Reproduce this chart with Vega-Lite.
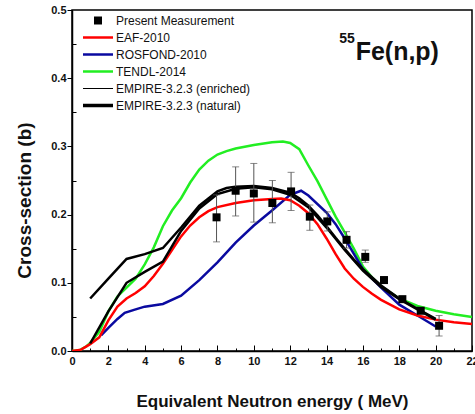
{
  "$schema": "https://vega.github.io/schema/vega-lite/v6.json",
  "width": 400,
  "height": 341,
  "autosize": "none",
  "padding": {"left": 72, "top": 10, "right": 3, "bottom": 63},
  "background": "white",
  "config": {
    "view": {"stroke": "black", "strokeWidth": 1.5},
    "font": "Liberation Sans",
    "axis": {
      "domainColor": "black", "domainWidth": 1.5, "tickColor": "black", "tickWidth": 1,
      "labelFont": "Liberation Sans", "labelFontWeight": "bold", "labelFontSize": 11, "labelColor": "#111",
      "titleFont": "Liberation Sans", "titleFontWeight": "bold", "titleColor": "#111", "grid": false,
      "labelOverlap": false, "labelFlush": false
    }
  },
  "datasets": {
    "meas": [
      {"series": "Present Measurement", "E": 7.95, "xs": 0.196, "lo": 0.160, "hi": 0.229},
      {"series": "Present Measurement", "E": 9.0, "xs": 0.235, "lo": 0.198, "hi": 0.270},
      {"series": "Present Measurement", "E": 10.0, "xs": 0.231, "lo": 0.189, "hi": 0.275},
      {"series": "Present Measurement", "E": 11.02, "xs": 0.217, "lo": 0.188, "hi": 0.250},
      {"series": "Present Measurement", "E": 12.05, "xs": 0.234, "lo": 0.206, "hi": 0.262},
      {"series": "Present Measurement", "E": 13.08, "xs": 0.197, "lo": 0.177, "hi": 0.214},
      {"series": "Present Measurement", "E": 14.04, "xs": 0.190, "lo": 0.176, "hi": 0.204},
      {"series": "Present Measurement", "E": 15.1, "xs": 0.163, "lo": 0.151, "hi": 0.175},
      {"series": "Present Measurement", "E": 16.13, "xs": 0.138, "lo": 0.130, "hi": 0.148},
      {"series": "Present Measurement", "E": 17.16, "xs": 0.104, "lo": 0.099, "hi": 0.109},
      {"series": "Present Measurement", "E": 18.17, "xs": 0.076, "lo": 0.072, "hi": 0.080},
      {"series": "Present Measurement", "E": 19.18, "xs": 0.059, "lo": 0.055, "hi": 0.063},
      {"series": "Present Measurement", "E": 20.19, "xs": 0.037, "lo": 0.022, "hi": 0.052}
    ],
    "curves": [
      {"series": "TENDL-2014", "E": 0, "xs": 0},
      {"series": "TENDL-2014", "E": 0.4, "xs": 0.001},
      {"series": "TENDL-2014", "E": 0.8, "xs": 0.007},
      {"series": "TENDL-2014", "E": 1, "xs": 0.012},
      {"series": "TENDL-2014", "E": 1.5, "xs": 0.028},
      {"series": "TENDL-2014", "E": 2, "xs": 0.058},
      {"series": "TENDL-2014", "E": 2.5, "xs": 0.080},
      {"series": "TENDL-2014", "E": 3, "xs": 0.093},
      {"series": "TENDL-2014", "E": 3.5, "xs": 0.106},
      {"series": "TENDL-2014", "E": 4, "xs": 0.127},
      {"series": "TENDL-2014", "E": 4.5, "xs": 0.152},
      {"series": "TENDL-2014", "E": 5, "xs": 0.183},
      {"series": "TENDL-2014", "E": 5.5, "xs": 0.206},
      {"series": "TENDL-2014", "E": 6, "xs": 0.224},
      {"series": "TENDL-2014", "E": 6.5, "xs": 0.247},
      {"series": "TENDL-2014", "E": 7, "xs": 0.266},
      {"series": "TENDL-2014", "E": 7.5, "xs": 0.279},
      {"series": "TENDL-2014", "E": 8, "xs": 0.288},
      {"series": "TENDL-2014", "E": 8.5, "xs": 0.293},
      {"series": "TENDL-2014", "E": 9, "xs": 0.297},
      {"series": "TENDL-2014", "E": 10, "xs": 0.302},
      {"series": "TENDL-2014", "E": 11, "xs": 0.306},
      {"series": "TENDL-2014", "E": 11.6, "xs": 0.307},
      {"series": "TENDL-2014", "E": 12, "xs": 0.305},
      {"series": "TENDL-2014", "E": 12.5, "xs": 0.296},
      {"series": "TENDL-2014", "E": 13, "xs": 0.272},
      {"series": "TENDL-2014", "E": 13.5, "xs": 0.249},
      {"series": "TENDL-2014", "E": 14, "xs": 0.223},
      {"series": "TENDL-2014", "E": 14.5, "xs": 0.197},
      {"series": "TENDL-2014", "E": 15, "xs": 0.174},
      {"series": "TENDL-2014", "E": 15.5, "xs": 0.150},
      {"series": "TENDL-2014", "E": 16, "xs": 0.124},
      {"series": "TENDL-2014", "E": 16.5, "xs": 0.108},
      {"series": "TENDL-2014", "E": 17, "xs": 0.095},
      {"series": "TENDL-2014", "E": 18, "xs": 0.077},
      {"series": "TENDL-2014", "E": 19, "xs": 0.066},
      {"series": "TENDL-2014", "E": 20, "xs": 0.059},
      {"series": "TENDL-2014", "E": 21, "xs": 0.054},
      {"series": "TENDL-2014", "E": 22, "xs": 0.050},

      {"series": "ROSFOND-2010", "E": 1.6, "xs": 0.023},
      {"series": "ROSFOND-2010", "E": 2, "xs": 0.034},
      {"series": "ROSFOND-2010", "E": 2.5, "xs": 0.047},
      {"series": "ROSFOND-2010", "E": 2.9, "xs": 0.056},
      {"series": "ROSFOND-2010", "E": 3.5, "xs": 0.061},
      {"series": "ROSFOND-2010", "E": 4, "xs": 0.065},
      {"series": "ROSFOND-2010", "E": 5, "xs": 0.069},
      {"series": "ROSFOND-2010", "E": 6, "xs": 0.081},
      {"series": "ROSFOND-2010", "E": 7, "xs": 0.104},
      {"series": "ROSFOND-2010", "E": 8, "xs": 0.130},
      {"series": "ROSFOND-2010", "E": 9, "xs": 0.159},
      {"series": "ROSFOND-2010", "E": 10, "xs": 0.184},
      {"series": "ROSFOND-2010", "E": 11, "xs": 0.206},
      {"series": "ROSFOND-2010", "E": 12, "xs": 0.229},
      {"series": "ROSFOND-2010", "E": 12.6, "xs": 0.235},
      {"series": "ROSFOND-2010", "E": 13, "xs": 0.228},
      {"series": "ROSFOND-2010", "E": 14, "xs": 0.203},
      {"series": "ROSFOND-2010", "E": 14.5, "xs": 0.186},
      {"series": "ROSFOND-2010", "E": 15, "xs": 0.165},
      {"series": "ROSFOND-2010", "E": 16, "xs": 0.120},
      {"series": "ROSFOND-2010", "E": 17, "xs": 0.093},
      {"series": "ROSFOND-2010", "E": 18, "xs": 0.068},
      {"series": "ROSFOND-2010", "E": 19, "xs": 0.052},
      {"series": "ROSFOND-2010", "E": 20, "xs": 0.036},

      {"series": "EAF-2010", "E": 0, "xs": 0},
      {"series": "EAF-2010", "E": 0.5, "xs": 0.002},
      {"series": "EAF-2010", "E": 1, "xs": 0.010},
      {"series": "EAF-2010", "E": 1.5, "xs": 0.020},
      {"series": "EAF-2010", "E": 2, "xs": 0.045},
      {"series": "EAF-2010", "E": 2.5, "xs": 0.065},
      {"series": "EAF-2010", "E": 3, "xs": 0.077},
      {"series": "EAF-2010", "E": 3.5, "xs": 0.085},
      {"series": "EAF-2010", "E": 4, "xs": 0.095},
      {"series": "EAF-2010", "E": 4.5, "xs": 0.110},
      {"series": "EAF-2010", "E": 5, "xs": 0.128},
      {"series": "EAF-2010", "E": 5.5, "xs": 0.148},
      {"series": "EAF-2010", "E": 6, "xs": 0.168},
      {"series": "EAF-2010", "E": 6.5, "xs": 0.184},
      {"series": "EAF-2010", "E": 7, "xs": 0.196},
      {"series": "EAF-2010", "E": 7.5, "xs": 0.205},
      {"series": "EAF-2010", "E": 8, "xs": 0.211},
      {"series": "EAF-2010", "E": 9, "xs": 0.217},
      {"series": "EAF-2010", "E": 10, "xs": 0.221},
      {"series": "EAF-2010", "E": 11, "xs": 0.223},
      {"series": "EAF-2010", "E": 11.5, "xs": 0.2235},
      {"series": "EAF-2010", "E": 12, "xs": 0.221},
      {"series": "EAF-2010", "E": 12.5, "xs": 0.213},
      {"series": "EAF-2010", "E": 13, "xs": 0.202},
      {"series": "EAF-2010", "E": 13.5, "xs": 0.186},
      {"series": "EAF-2010", "E": 14, "xs": 0.165},
      {"series": "EAF-2010", "E": 14.5, "xs": 0.142},
      {"series": "EAF-2010", "E": 15, "xs": 0.121},
      {"series": "EAF-2010", "E": 15.5, "xs": 0.106},
      {"series": "EAF-2010", "E": 16, "xs": 0.094},
      {"series": "EAF-2010", "E": 16.5, "xs": 0.084},
      {"series": "EAF-2010", "E": 17, "xs": 0.075},
      {"series": "EAF-2010", "E": 18, "xs": 0.061},
      {"series": "EAF-2010", "E": 19, "xs": 0.052},
      {"series": "EAF-2010", "E": 20, "xs": 0.046},
      {"series": "EAF-2010", "E": 21, "xs": 0.042},
      {"series": "EAF-2010", "E": 22, "xs": 0.0395},

      {"series": "EMPIRE-3.2.3 (enriched)", "E": 1, "xs": 0.011},
      {"series": "EMPIRE-3.2.3 (enriched)", "E": 2, "xs": 0.058},
      {"series": "EMPIRE-3.2.3 (enriched)", "E": 3, "xs": 0.100},
      {"series": "EMPIRE-3.2.3 (enriched)", "E": 4, "xs": 0.116},
      {"series": "EMPIRE-3.2.3 (enriched)", "E": 5, "xs": 0.131},
      {"series": "EMPIRE-3.2.3 (enriched)", "E": 6, "xs": 0.176},
      {"series": "EMPIRE-3.2.3 (enriched)", "E": 7, "xs": 0.209},
      {"series": "EMPIRE-3.2.3 (enriched)", "E": 8, "xs": 0.230},
      {"series": "EMPIRE-3.2.3 (enriched)", "E": 9, "xs": 0.238},
      {"series": "EMPIRE-3.2.3 (enriched)", "E": 10, "xs": 0.240},
      {"series": "EMPIRE-3.2.3 (enriched)", "E": 11, "xs": 0.237},
      {"series": "EMPIRE-3.2.3 (enriched)", "E": 12, "xs": 0.229},
      {"series": "EMPIRE-3.2.3 (enriched)", "E": 13, "xs": 0.211},
      {"series": "EMPIRE-3.2.3 (enriched)", "E": 14, "xs": 0.181},
      {"series": "EMPIRE-3.2.3 (enriched)", "E": 15, "xs": 0.148},
      {"series": "EMPIRE-3.2.3 (enriched)", "E": 16, "xs": 0.118},
      {"series": "EMPIRE-3.2.3 (enriched)", "E": 17, "xs": 0.094},
      {"series": "EMPIRE-3.2.3 (enriched)", "E": 18, "xs": 0.076},
      {"series": "EMPIRE-3.2.3 (enriched)", "E": 19, "xs": 0.061},
      {"series": "EMPIRE-3.2.3 (enriched)", "E": 20, "xs": 0.046},

      {"series": "EMPIRE-3.2.3 (natural)", "E": 1, "xs": 0.077},
      {"series": "EMPIRE-3.2.3 (natural)", "E": 2, "xs": 0.106},
      {"series": "EMPIRE-3.2.3 (natural)", "E": 3, "xs": 0.135},
      {"series": "EMPIRE-3.2.3 (natural)", "E": 4, "xs": 0.142},
      {"series": "EMPIRE-3.2.3 (natural)", "E": 5, "xs": 0.151},
      {"series": "EMPIRE-3.2.3 (natural)", "E": 6, "xs": 0.181},
      {"series": "EMPIRE-3.2.3 (natural)", "E": 7, "xs": 0.213},
      {"series": "EMPIRE-3.2.3 (natural)", "E": 8, "xs": 0.234},
      {"series": "EMPIRE-3.2.3 (natural)", "E": 8.5, "xs": 0.239},
      {"series": "EMPIRE-3.2.3 (natural)", "E": 9, "xs": 0.241},
      {"series": "EMPIRE-3.2.3 (natural)", "E": 10, "xs": 0.242},
      {"series": "EMPIRE-3.2.3 (natural)", "E": 11, "xs": 0.239},
      {"series": "EMPIRE-3.2.3 (natural)", "E": 12, "xs": 0.232},
      {"series": "EMPIRE-3.2.3 (natural)", "E": 12.5, "xs": 0.224},
      {"series": "EMPIRE-3.2.3 (natural)", "E": 13, "xs": 0.213},
      {"series": "EMPIRE-3.2.3 (natural)", "E": 13.5, "xs": 0.199},
      {"series": "EMPIRE-3.2.3 (natural)", "E": 14, "xs": 0.183},
      {"series": "EMPIRE-3.2.3 (natural)", "E": 14.5, "xs": 0.166},
      {"series": "EMPIRE-3.2.3 (natural)", "E": 15, "xs": 0.150},
      {"series": "EMPIRE-3.2.3 (natural)", "E": 15.5, "xs": 0.134},
      {"series": "EMPIRE-3.2.3 (natural)", "E": 16, "xs": 0.120},
      {"series": "EMPIRE-3.2.3 (natural)", "E": 17, "xs": 0.096},
      {"series": "EMPIRE-3.2.3 (natural)", "E": 18, "xs": 0.077},
      {"series": "EMPIRE-3.2.3 (natural)", "E": 19, "xs": 0.062},
      {"series": "EMPIRE-3.2.3 (natural)", "E": 20, "xs": 0.047}
    ]
  },
  "layer": [
    {
      "data": {"name": "curves"},
      "mark": {"type": "line", "clip": true},
      "encoding": {
        "x": {"field": "E", "type": "quantitative",
          "scale": {"domain": [0, 22], "nice": false, "zero": false},
          "axis": {"title": "Equivalent Neutron energy ( MeV)", "titleFontSize": 17, "titlePadding": 24,
            "values": [0,1,2,3,4,5,6,7,8,9,10,11,12,13,14,15,16,17,18,19,20,21,22],
            "tickCount": 100,
            "format": "d",
            "labelExpr": "datum.value % 2 == 0 ? datum.label : ''",
            "tickSize": {"condition": {"test": "datum.value % 2 == 0", "value": -6}, "value": -3},
            "labelOverlap": false,
            "labelPadding": 10}},
        "y": {"field": "xs", "type": "quantitative",
          "scale": {"domain": [0, 0.5], "nice": false},
          "axis": {"title": "Cross-section (b)", "titleFontSize": 19, "titleX": -48, "titleY": 190, "titleAlign": "center", "titleBaseline": "middle", "titleAngle": 270,
            "values": [0,0.05,0.1,0.15,0.2,0.25,0.3,0.35,0.4,0.45,0.5],
            "tickCount": 100,
            "format": ".1f",
            "labelExpr": "round(datum.value*100) % 10 == 0 ? datum.label : ''",
            "tickSize": {"condition": {"test": "round(datum.value*100) % 10 == 0", "value": 5}, "value": -4},
            "labelPadding": 1, "labelOverlap": false}},
        "color": {"field": "series", "type": "nominal",
          "scale": {"domain": ["Present Measurement", "EAF-2010", "ROSFOND-2010", "TENDL-2014", "EMPIRE-3.2.3 (enriched)", "EMPIRE-3.2.3 (natural)"],
                    "range": ["black", "#ff0000", "#0a0aa0", "#22ee22", "black", "black"]},
          "legend": {
            "orient": "none", "legendX": 11, "legendY": 2, "title": null, "padding": 0,
            "labelFont": "Liberation Sans", "labelFontSize": 12, "labelColor": "#111",
            "symbolSize": 900, "symbolType": "stroke", "clipHeight": 17, "rowPadding": 0, "labelOffset": 21,
            "encode": {"symbols": {"update": {
              "x": {"value": 15},
              "shape": {"signal": "datum.value === 'Present Measurement' ? 'square' : 'stroke'"},
              "size": {"signal": "datum.value === 'Present Measurement' ? 64 : 900"},
              "strokeWidth": {"signal": "datum.value === 'Present Measurement' ? 0 : (datum.value === 'EMPIRE-3.2.3 (natural)' ? 3.5 : (datum.value === 'EMPIRE-3.2.3 (enriched)' ? 1 : 2.5))"},
              "fill": {"signal": "datum.value === 'Present Measurement' ? 'black' : 'transparent'"},
              "stroke": {"signal": "scale('color', datum.value)"},
              "opacity": {"value": 1}
            }}}
          }},
        "strokeWidth": {"field": "series", "type": "nominal",
          "scale": {"domain": ["EAF-2010", "ROSFOND-2010", "TENDL-2014", "EMPIRE-3.2.3 (enriched)", "EMPIRE-3.2.3 (natural)"],
                    "range": [2.5, 2.5, 2.5, 1, 4]},
          "legend": null},
        "order": {"field": "E", "type": "quantitative"}
      }
    },
    {
      "data": {"name": "meas"},
      "mark": {"type": "errorbar", "ticks": {"size": 7}, "color": "#555", "thickness": 1},
      "encoding": {
        "x": {"field": "E", "type": "quantitative", "title": "Equivalent Neutron energy ( MeV)"},
        "y": {"field": "lo", "type": "quantitative", "title": "Cross-section (b)"},
        "y2": {"field": "hi"}
      }
    },
    {
      "data": {"name": "meas"},
      "mark": {"type": "point", "shape": "square", "filled": true, "size": 64, "opacity": 1},
      "encoding": {
        "x": {"field": "E", "type": "quantitative", "title": "Equivalent Neutron energy ( MeV)"},
        "y": {"field": "xs", "type": "quantitative", "title": "Cross-section (b)"},
        "color": {"field": "series", "type": "nominal"}
      }
    },
    {
      "data": {"values": [{"E": 15.6, "xs": 0.4267, "text": "Fe(n,p)"}]},
      "mark": {"type": "text", "align": "left", "baseline": "alphabetic", "fontSize": 25, "fontWeight": "bold", "font": "Liberation Sans", "color": "#111"},
      "encoding": {
        "x": {"field": "E", "type": "quantitative", "title": "Equivalent Neutron energy ( MeV)"},
        "y": {"field": "xs", "type": "quantitative", "title": "Cross-section (b)"},
        "text": {"field": "text"}
      }
    },
    {
      "data": {"values": [{"E": 15.55, "xs": 0.4516, "text": "55"}]},
      "mark": {"type": "text", "align": "right", "baseline": "alphabetic", "fontSize": 14, "fontWeight": "bold", "font": "Liberation Sans", "color": "#111"},
      "encoding": {
        "x": {"field": "E", "type": "quantitative", "title": "Equivalent Neutron energy ( MeV)"},
        "y": {"field": "xs", "type": "quantitative", "title": "Cross-section (b)"},
        "text": {"field": "text"}
      }
    }
  ]
}
